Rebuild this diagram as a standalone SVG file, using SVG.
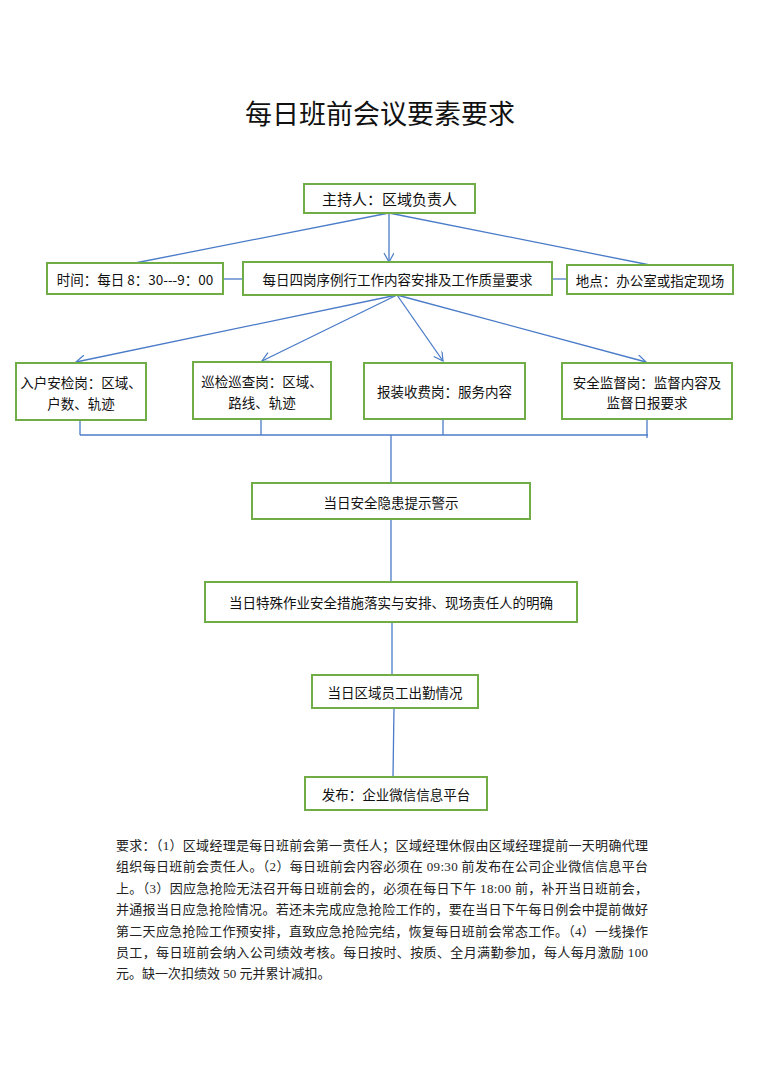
<svg xmlns="http://www.w3.org/2000/svg" width="763" height="1080" viewBox="0 0 763 1080">
<style>
.box{fill:#fff;stroke:#70AD47;stroke-width:2}
.lbl{font-family:"Noto Sans CJK SC","Noto Sans",sans-serif;font-size:13.5px;fill:#111;text-anchor:middle;dominant-baseline:central}
.con{fill:none;stroke:#4A7BC8;stroke-width:1.3}
.para{font-family:"Liberation Serif","Noto Sans CJK SC",serif;font-size:13px;fill:#222}
</style>
<defs>
<marker id="arr" markerWidth="12" markerHeight="12" refX="10" refY="5" orient="auto" markerUnits="userSpaceOnUse">
<path d="M1,0 L10,5 L1,10" fill="none" stroke="#4A7BC8" stroke-width="1.2"/>
</marker>
</defs>
<rect width="763" height="1080" fill="#fff"/>
<text x="380" y="112" font-family="Noto Sans CJK SC,Noto Sans,sans-serif" font-size="27" fill="#111" text-anchor="middle" dominant-baseline="central">每日班前会议要素要求</text>

<g id="connectors">
<line class="con" x1="389" y1="213" x2="389" y2="262" marker-end="url(#arr)"/>
<line class="con" x1="389" y1="213" x2="135" y2="263"/>
<line class="con" x1="389" y1="213" x2="650" y2="265"/>
<line class="con" x1="223" y1="279" x2="243" y2="279"/>
<line class="con" x1="552" y1="279" x2="567" y2="279"/>
<line class="con" x1="397" y1="295" x2="76" y2="362" marker-end="url(#arr)"/>
<line class="con" x1="397" y1="295" x2="262" y2="361" marker-end="url(#arr)"/>
<line class="con" x1="397" y1="295" x2="443" y2="361" marker-end="url(#arr)"/>
<line class="con" x1="397" y1="295" x2="646" y2="362" marker-end="url(#arr)"/>
<line class="con" x1="80" y1="420" x2="80" y2="435"/>
<line class="con" x1="261" y1="419" x2="261" y2="435"/>
<line class="con" x1="443" y1="419" x2="443" y2="435"/>
<line class="con" x1="647" y1="419" x2="647" y2="438"/>
<line class="con" x1="80" y1="435" x2="648" y2="435"/>
<line class="con" x1="391" y1="435" x2="391" y2="483"/>
<line class="con" x1="391" y1="519" x2="391" y2="582"/>
<line class="con" x1="392" y1="622" x2="392" y2="675"/>
<line class="con" x1="394" y1="708" x2="393" y2="777"/>
</g>

<g id="host"><rect class="box" x="304" y="184" width="171" height="29"/><text class="lbl" x="389.5" y="198.5" style="font-size:15px">主持人：区域负责人</text></g>
<g id="time"><rect class="box" x="47" y="263" width="176" height="31"/><text class="lbl" x="135" y="279">时间：每日 8：30---9：00</text></g>
<g id="routine"><rect class="box" x="243" y="262" width="309" height="33"/><text class="lbl" x="397.5" y="278.5">每日四岗序例行工作内容安排及工作质量要求</text></g>
<g id="place"><rect class="box" x="567" y="265" width="166" height="29"/><text class="lbl" x="650" y="279.5">地点：办公室或指定现场</text></g>

<g id="post1"><rect class="box" x="16" y="363" width="130" height="57"/><text class="lbl" x="81" y="382">入户安检岗：区域、</text><text class="lbl" x="81" y="403">户数、轨迹</text></g>
<g id="post2"><rect class="box" x="193" y="362" width="138" height="57"/><text class="lbl" x="262" y="381">巡检巡查岗：区域、</text><text class="lbl" x="262" y="402">路线、轨迹</text></g>
<g id="post3"><rect class="box" x="364" y="363" width="161" height="56"/><text class="lbl" x="444.5" y="391">报装收费岗：服务内容</text></g>
<g id="post4"><rect class="box" x="562" y="363" width="170" height="56"/><text class="lbl" x="647" y="382">安全监督岗：监督内容及</text><text class="lbl" x="647" y="402">监督日报要求</text></g>

<g id="hazard"><rect class="box" x="252" y="483" width="278" height="36"/><text class="lbl" x="391" y="501.5">当日安全隐患提示警示</text></g>
<g id="special"><rect class="box" x="205" y="582" width="372" height="40"/><text class="lbl" x="391" y="602">当日特殊作业安全措施落实与安排、现场责任人的明确</text></g>
<g id="attendance"><rect class="box" x="312" y="675" width="166" height="33"/><text class="lbl" x="395" y="691.5">当日区域员工出勤情况</text></g>
<g id="publish"><rect class="box" x="305" y="777" width="182" height="33"/><text class="lbl" x="396" y="794">发布：企业微信信息平台</text></g>

<g id="note" class="para">
<text x="116" y="850" textLength="532" lengthAdjust="spacing">要求：（1）区域经理是每日班前会第一责任人；区域经理休假由区域经理提前一天明确代理</text>
<text x="116" y="871.4" textLength="532" lengthAdjust="spacing">组织每日班前会责任人。（2）每日班前会内容必须在 09:30 前发布在公司企业微信信息平台</text>
<text x="116" y="892.8" textLength="532" lengthAdjust="spacing">上。（3）因应急抢险无法召开每日班前会的，必须在每日下午 18:00 前，补开当日班前会，</text>
<text x="116" y="914.2" textLength="532" lengthAdjust="spacing">并通报当日应急抢险情况。若还未完成应急抢险工作的，要在当日下午每日例会中提前做好</text>
<text x="116" y="935.6" textLength="532" lengthAdjust="spacing">第二天应急抢险工作预安排，直致应急抢险完结，恢复每日班前会常态工作。（4）一线操作</text>
<text x="116" y="957" textLength="532" lengthAdjust="spacing">员工，每日班前会纳入公司绩效考核。每日按时、按质、全月满勤参加，每人每月激励 100</text>
<text x="116" y="978.4">元。缺一次扣绩效 50 元并累计减扣。</text>
</g>
</svg>
